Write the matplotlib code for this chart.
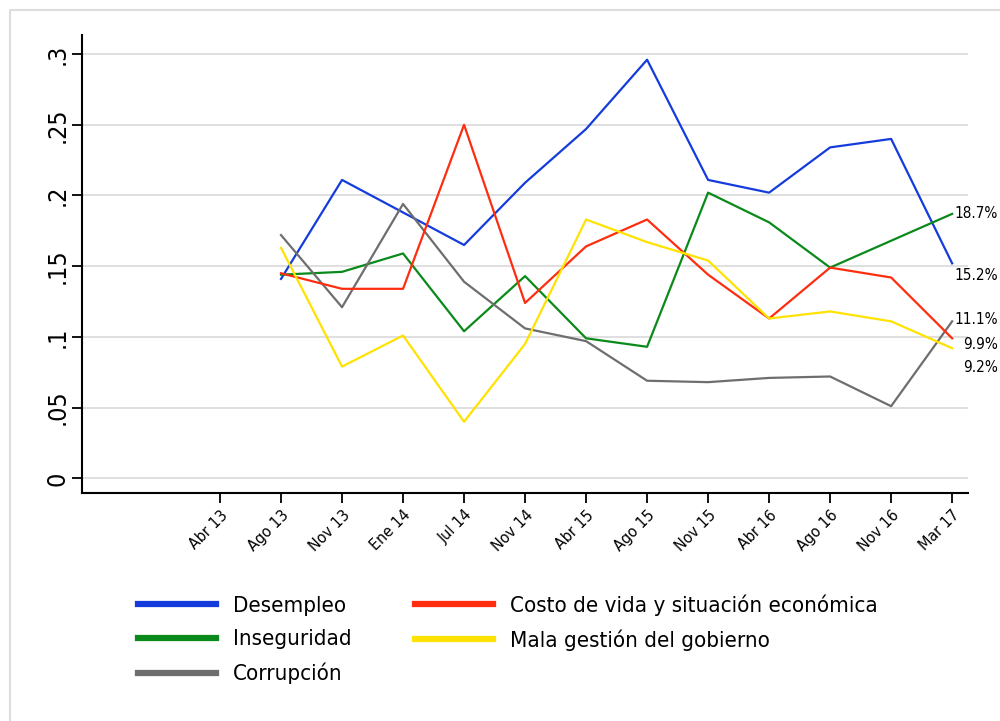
import matplotlib
matplotlib.use('Agg')
import matplotlib.pyplot as plt
from matplotlib.patches import Rectangle
import numpy as np

plt.rcParams['font.family'] = ['DejaVu Sans']
plt.rcParams['font.stretch'] = 'condensed'

# datos
fechas = ['Abr 13', 'Ago 13', 'Nov 13', 'Ene 14', 'Jul 14', 'Nov 14', 'Abr 15',
          'Ago 15', 'Nov 15', 'Abr 16', 'Ago 16', 'Nov 16', 'Mar 17']
desempleo = [np.nan, 0.141, 0.211, 0.188, 0.165, 0.209, 0.247, 0.296, 0.211, 0.202, 0.234, 0.240, 0.152]
inseguridad = [np.nan, 0.144, 0.146, 0.159, 0.104, 0.143, 0.099, 0.093, 0.202, 0.181, 0.149, 0.168, 0.187]
costo_vida = [np.nan, 0.145, 0.134, 0.134, 0.250, 0.124, 0.164, 0.183, 0.144, 0.113, 0.149, 0.142, 0.099]
mala_gestion = [np.nan, 0.163, 0.079, 0.101, 0.040, 0.095, 0.183, 0.167, 0.154, 0.113, 0.118, 0.111, 0.092]
corrupcion = [np.nan, 0.172, 0.121, 0.194, 0.139, 0.106, 0.097, 0.069, 0.068, 0.071, 0.072, 0.051, 0.111]

series = [
    ('Desempleo', desempleo, '#143cdc'),
    ('Inseguridad', inseguridad, '#0a8a1a'),
    ('Corrupción', corrupcion, '#6e6e6e'),
    ('Costo de vida y situación económica', costo_vida, '#ff2d10'),
    ('Mala gestión del gobierno', mala_gestion, '#ffe200'),
]

fig = plt.figure(figsize=(10, 7.21), dpi=100)
fig.patches.append(Rectangle((0.010, -0.1), 1.2, 1.086, transform=fig.transFigure,
                             fill=False, edgecolor='#dddddd', linewidth=1.5))
ax = fig.add_axes([0.0817, 0.3158, 0.8863, 0.6357])

x = np.arange(len(fechas))
for nombre, valores, color in series:
    ax.plot(x, valores, color=color, linewidth=1.6, label=nombre)

# etiquetas al final de cada serie
finales = [(inseguridad, '18.7%', 0), (desempleo, '15.2%', -12), (corrupcion, '11.1%', 2),
           (costo_vida, '9.9%', -6), (mala_gestion, '9.2%', -19)]
for valores, txt, dy in finales:
    ax.annotate(txt, xy=(x[-1], valores[-1]), xytext=(46, dy), textcoords='offset pixels',
                ha='right', va='center', fontsize=11, annotation_clip=False)

ax.set_xlim(-2.267, 12.26)
ax.set_ylim(-0.0106, 0.3135)
ax.set_xticks(x)
ax.set_xticklabels(fechas, rotation=45, ha='right', rotation_mode='anchor', fontsize=11.5)
ax.set_yticks([0, 0.05, 0.1, 0.15, 0.2, 0.25, 0.3])
ax.set_yticklabels(['0', '.05', '.1', '.15', '.2', '.25', '.3'], rotation=90, va='center', fontsize=18)
ax.tick_params(axis='y', length=7.2, width=1.3, pad=1.5)
ax.tick_params(axis='x', length=7.2, width=1.3, pad=3)

ax.grid(axis='y', color='#dcdcdc', linewidth=1.3)
ax.set_axisbelow(True)
for s in ['top', 'right']:
    ax.spines[s].set_visible(False)
for s in ['left', 'bottom']:
    ax.spines[s].set_linewidth(1.5)

leg = fig.legend(loc='upper left', bbox_to_anchor=(0.118, 0.203), ncol=2, frameon=False,
                 fontsize=16, handlelength=3.5, handletextpad=0.78, columnspacing=2.86,
                 labelspacing=0.6)
for h in leg.get_lines():
    h.set_linewidth(4.5)

fig.savefig('out.png', dpi=100)
